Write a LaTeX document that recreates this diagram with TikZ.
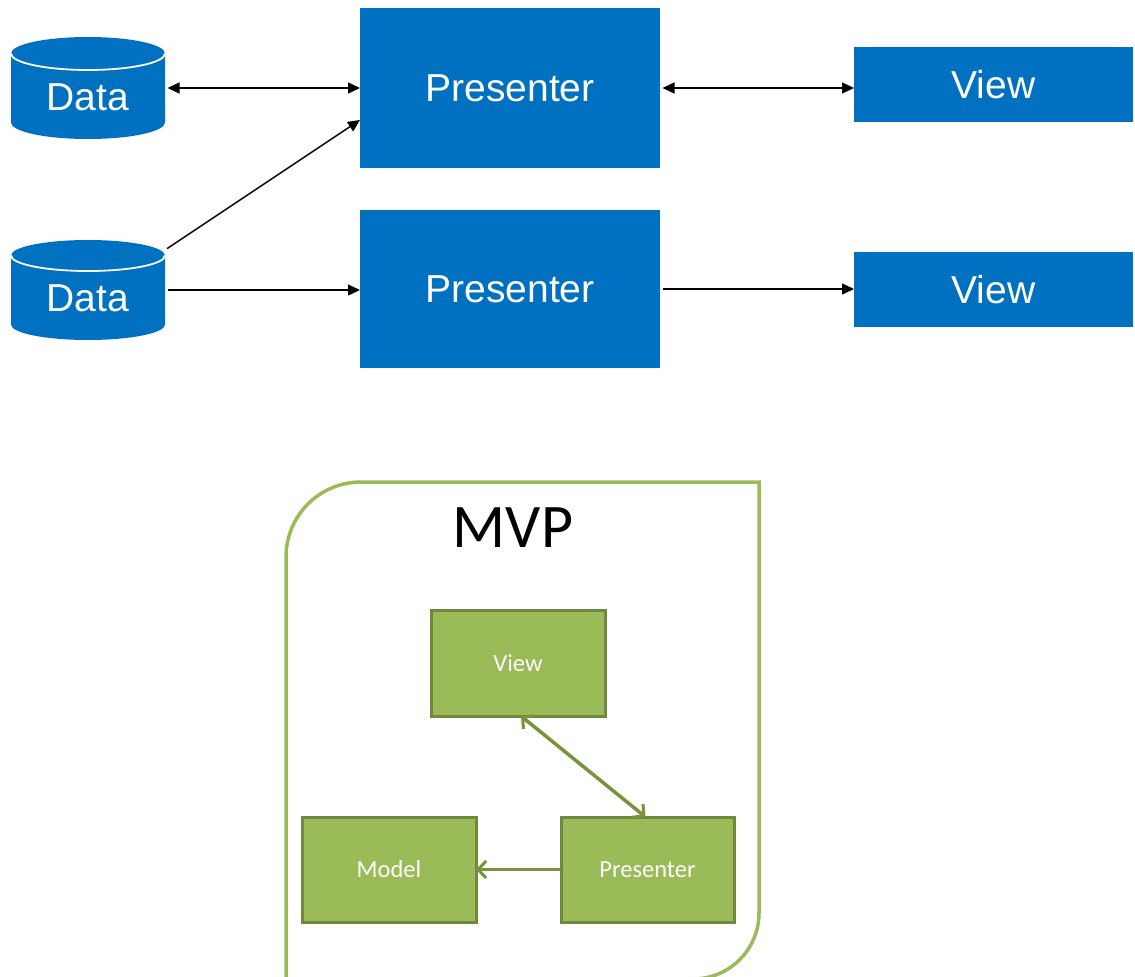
\documentclass[tikz,border=0pt]{standalone}
\usepackage{fontspec}
\setmainfont{Liberation Sans}
\newfontfamily\calibrifont{Carlito}
\usetikzlibrary{arrows.meta,calc}
\definecolor{mvpblue}{HTML}{0070C0}
\definecolor{leafgreen}{HTML}{9BBB59}
\definecolor{leafedge}{HTML}{71893F}
\definecolor{leafarrow}{HTML}{77933C}
\definecolor{framegreen}{HTML}{9BBB59}
\begin{document}
\begin{tikzpicture}[x=1pt,y=-1pt,
  bluebox/.style={fill=mvpblue, text=white, inner sep=0pt, outer sep=0pt,
    font=\fontsize{39}{39}\selectfont},
  cylbody/.style={inner sep=0pt, outer sep=0pt, minimum width=154pt},
  celltext/.style={text=white, inner sep=0pt, font=\fontsize{39}{39}\selectfont},
  wire/.style={draw=black, line width=1.4pt, shorten <=2.5pt},
  onehead/.style={wire, -{Triangle[length=12pt,width=11pt]}},
  twohead/.style={wire, {Triangle[length=12pt,width=11pt]}-{Triangle[length=12pt,width=11pt]}},
  greenbox/.style={fill=leafgreen, draw=leafedge, line width=3pt, text=white,
    inner sep=0pt, outer sep=0pt, minimum width=174pt, minimum height=105pt,
    font=\calibrifont\fontsize{24.5}{24.5}\selectfont},
  greenlink/.style={draw=leafarrow, line width=3.5pt},
  barb/.tip={Straight Barb[length=8pt,width=17pt,line width=3pt]},
  frameline/.style={draw=framegreen, line width=3.5pt}
]
\useasboundingbox (0,0) rectangle (1135,977);
\clip (0,0) rectangle (1135,977);

% ---------- data stores ----------
\node[cylbody, minimum height=102pt] (d1) at (88,88) {};
\node[cylbody, minimum height=100pt] (d2) at (88,290) {};
\foreach \c/\r in {d1/16.5, d2/15.5} {
  \fill[mvpblue] ([yshift=-\r pt]\c.north west)
      arc[start angle=180, end angle=0, x radius=77pt, y radius=\r pt]
      -- ([yshift=\r pt]\c.south east)
      arc[start angle=0, end angle=-180, x radius=77pt, y radius=\r pt] -- cycle;
  \draw[white, line width=1.8pt] ([yshift=-\r pt]\c.north west)
      arc[start angle=180, end angle=360, x radius=77pt, y radius=\r pt];
}
\node[celltext] (d1t) at ([yshift=-9pt]d1.center) {Data};
\node[celltext] (d2t) at ([yshift=-8pt]d2.center) {Data};

% ---------- presenters and views ----------
\node[bluebox, minimum width=300pt, minimum height=160pt] (p1) at (510,88) {Presenter};
\node[bluebox, minimum width=300pt, minimum height=158pt] (p2) at (510,289) {Presenter};
\node[bluebox, minimum width=279pt, minimum height=75pt] (v1) at (993.5,84.5) {View};
\node[bluebox, minimum width=279pt, minimum height=75pt] (v2) at (993.5,289.5) {View};

% ---------- connectors ----------
\draw[twohead] (p1.west -| d1.east) -- (p1.west);
\draw[twohead] (p1.east) -- (p1.east -| v1.west);
\draw[onehead] ([yshift=-10pt]d2.north east) -- ($(p1.south west)!0.3!(p1.north west)$);
\draw[onehead] (d2.east) -- (d2.east -| p2.west);
\draw[onehead] (p2.east) -- (p2.east -| v2.west);

% ---------- MVP panel ----------
\draw[frameline] (286,985) -- (286,557)
   arc[start angle=180, end angle=90, radius=75pt] -- (759,482) -- (759,913)
   arc[start angle=0, end angle=-90, radius=66pt] -- (286,979) -- cycle;
\node[font=\calibrifont\fontsize{62}{62}\selectfont, inner sep=0pt] (mvp) at (513,528) {MVP};

\node[greenbox, minimum height=106pt] (gv) at (518,663) {View};
\node[greenbox] (gm) at (389,869.5) {Model};
\node[greenbox, minimum width=173pt] (gp) at (647.5,869.5) {Presenter};

\draw[greenlink, barb-barb] ([xshift=3pt]gv.south) -- ([xshift=-2pt]gp.north);
\draw[greenlink, -barb] (gp.west) -- (gm.east);
\end{tikzpicture}
\end{document}
